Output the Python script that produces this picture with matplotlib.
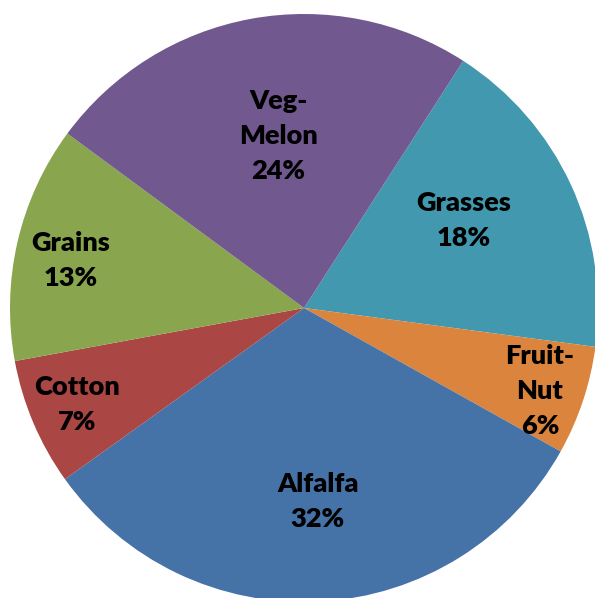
import matplotlib
matplotlib.use("Agg")
import matplotlib.pyplot as plt
import numpy as np

# Crop shares, listed clockwise starting from the Grasses slice
crops = ["Grasses", "Fruit-\nNut", "Alfalfa", "Cotton", "Grains", "Veg-\nMelon"]
shares = [18, 6, 32, 7, 13, 24]
colors = ["#4198AF", "#DB843D", "#4572A7", "#AA4643", "#89A54E", "#71588F"]
# label placement: radius as a fraction of the pie radius, and a clockwise
# nudge (degrees) away from each wedge's mid-angle
label_radius = [0.62, 0.85, 0.66, 0.84, 0.81, 0.59]
label_nudge = [-3.9, 0.9, -0.9, 0.0, -1.5, 1.8]

W, H = 595, 598
fig = plt.figure(figsize=(W / 100, H / 100), dpi=100)
ax = fig.add_axes([0, 0, 1, 1])

cx, cy, r = 304, H - 308, 294
wedges, _ = ax.pie(shares, colors=colors, startangle=57.2, counterclock=False,
                   center=(cx, cy), radius=r, labels=None,
                   wedgeprops=dict(linewidth=0, antialiased=True), frame=True)
ax.set_xlim(0, W)
ax.set_ylim(0, H)
ax.set_aspect("equal")
ax.axis("off")

for w, name, val, fr, nd in zip(wedges, crops, shares, label_radius, label_nudge):
    mid = np.deg2rad((w.theta1 + w.theta2) / 2 - nd)
    x = cx + fr * r * np.cos(mid)
    y = cy + fr * r * np.sin(mid)
    ax.text(x, y, f"{name}\n{val}%", ha="center", va="center",
            fontsize=19.5, fontweight="heavy", family="Lato",
            linespacing=1.55, color="black")

fig.savefig("out.png", dpi=100)
